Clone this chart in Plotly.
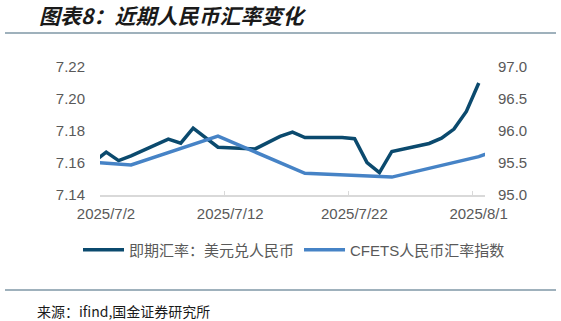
import pandas as pd
import plotly.graph_objects as go

# ---- data ----
spot_dates = ["2025-07-01", "2025-07-02", "2025-07-03", "2025-07-04", "2025-07-07",
              "2025-07-08", "2025-07-09", "2025-07-10", "2025-07-11", "2025-07-14",
              "2025-07-15", "2025-07-16", "2025-07-17", "2025-07-18", "2025-07-21",
              "2025-07-22", "2025-07-23", "2025-07-24", "2025-07-25", "2025-07-28",
              "2025-07-29", "2025-07-30", "2025-07-31", "2025-08-01"]
spot_values = [7.1607, 7.1668, 7.1615, 7.1645, 7.1749,
               7.1724, 7.1818, 7.1756, 7.1699, 7.1688,
               7.1728, 7.1766, 7.1793, 7.1759, 7.1760,
               7.1752, 7.1603, 7.1540, 7.1672, 7.1722,
               7.1755, 7.1812, 7.1922, 7.2100]

cfets_dates = ["2025-06-27", "2025-07-04", "2025-07-11", "2025-07-18",
               "2025-07-25", "2025-08-01", "2025-08-08"]
cfets_values = [95.57, 95.47, 95.92, 95.34, 95.28, 95.60, 96.10]

series_names = ["即期汇率：美元兑人民币", "CFETS人民币汇率指数"]
tick_dates = ["2025-07-02", "2025-07-12", "2025-07-22", "2025-08-01"]
tick_labels = ["2025/7/2", "2025/7/12", "2025/7/22", "2025/8/1"]
left_ticks = [7.14, 7.16, 7.18, 7.20, 7.22]
right_ticks = [95.0, 95.5, 96.0, 96.5, 97.0]

title_text = "图表8：近期人民币汇率变化"
source_text = "来源：ifind,国金证券研究所"

# ---- layout geometry ----
W, H = 561, 321
ML, MR, MT, MB = 100, 76, 67, 126
PW, PH = W - ML - MR, H - MT - MB

def px_x(px):
    return (px - ML) / PW

def px_y(py):
    return (H - MB - py) / PH

# Excel-style date axis: points sit in the middle of their day
half_day = pd.Timedelta(hours=12)
spot_x = pd.to_datetime(spot_dates) + half_day
cfets_x = pd.to_datetime(cfets_dates) + half_day

DARK = "#0b4a6e"
LIGHT = "#4683c6"
GRAY = "#595959"
FONT = "Liberation Sans, Arial, Noto Sans CJK SC, sans-serif"

fig = go.Figure()
fig.add_trace(go.Scatter(x=spot_x, y=spot_values, name=series_names[0], mode="lines",
                         line=dict(color=DARK, width=3.5), yaxis="y"))
fig.add_trace(go.Scatter(x=cfets_x, y=cfets_values, name=series_names[1], mode="lines",
                         line=dict(color=LIGHT, width=3.5), yaxis="y2"))

fig.update_layout(
    width=W, height=H,
    margin=dict(l=ML, r=MR, t=MT, b=MB),
    paper_bgcolor="white", plot_bgcolor="white",
    font=dict(family=FONT, size=15, color=GRAY),
    xaxis=dict(type="date", range=["2025-07-02", "2025-08-02"],
               tickvals=tick_dates, ticktext=tick_labels,
               showgrid=False, zeroline=False,
               showline=True, linecolor="#d9d9d9", linewidth=1.5,
               ticks="inside", ticklen=4, tickcolor="#d9d9d9", tickwidth=1,
               ticklabelstandoff=4, ticklabelshift=6,
               tickfont=dict(size=15, color=GRAY)),
    yaxis=dict(range=[7.14, 7.22], tickvals=left_ticks,
               tickformat=".2f", showgrid=False, zeroline=False, showline=False,
               ticklabelstandoff=14,
               tickfont=dict(size=15, color=GRAY)),
    yaxis2=dict(range=[95.0, 97.0], tickvals=right_ticks, tickformat=".1f",
                overlaying="y", side="right", showgrid=False, zeroline=False,
                showline=False, ticklabelstandoff=12,
                tickfont=dict(size=15, color=GRAY)),
    legend=dict(orientation="h", x=px_x(78), xanchor="left",
                y=px_y(250), yanchor="middle",
                font=dict(size=15, color=GRAY, family=FONT),
                bgcolor="rgba(0,0,0,0)", itemwidth=41),
    showlegend=True,
)

# title, rules and source
fig.add_annotation(text=title_text, xref="paper", yref="paper",
                   x=px_x(37), y=px_y(15), xanchor="left", yanchor="middle",
                   showarrow=False,
                   font=dict(family="Noto Sans CJK SC", size=21, color="#1a1a1a",
                             weight="bold", style="italic"))
fig.add_annotation(text=source_text, xref="paper", yref="paper",
                   x=px_x(35), y=px_y(311), xanchor="left", yanchor="middle",
                   showarrow=False,
                   font=dict(family="Noto Sans CJK SC", size=14, color="#1a1a1a"))
for py in (33, 290):
    fig.add_shape(type="line", xref="paper", yref="paper",
                  x0=px_x(5), x1=px_x(556), y0=px_y(py), y1=px_y(py),
                  line=dict(color="#7f97a6", width=1.5))

fig.write_html("out.html")
